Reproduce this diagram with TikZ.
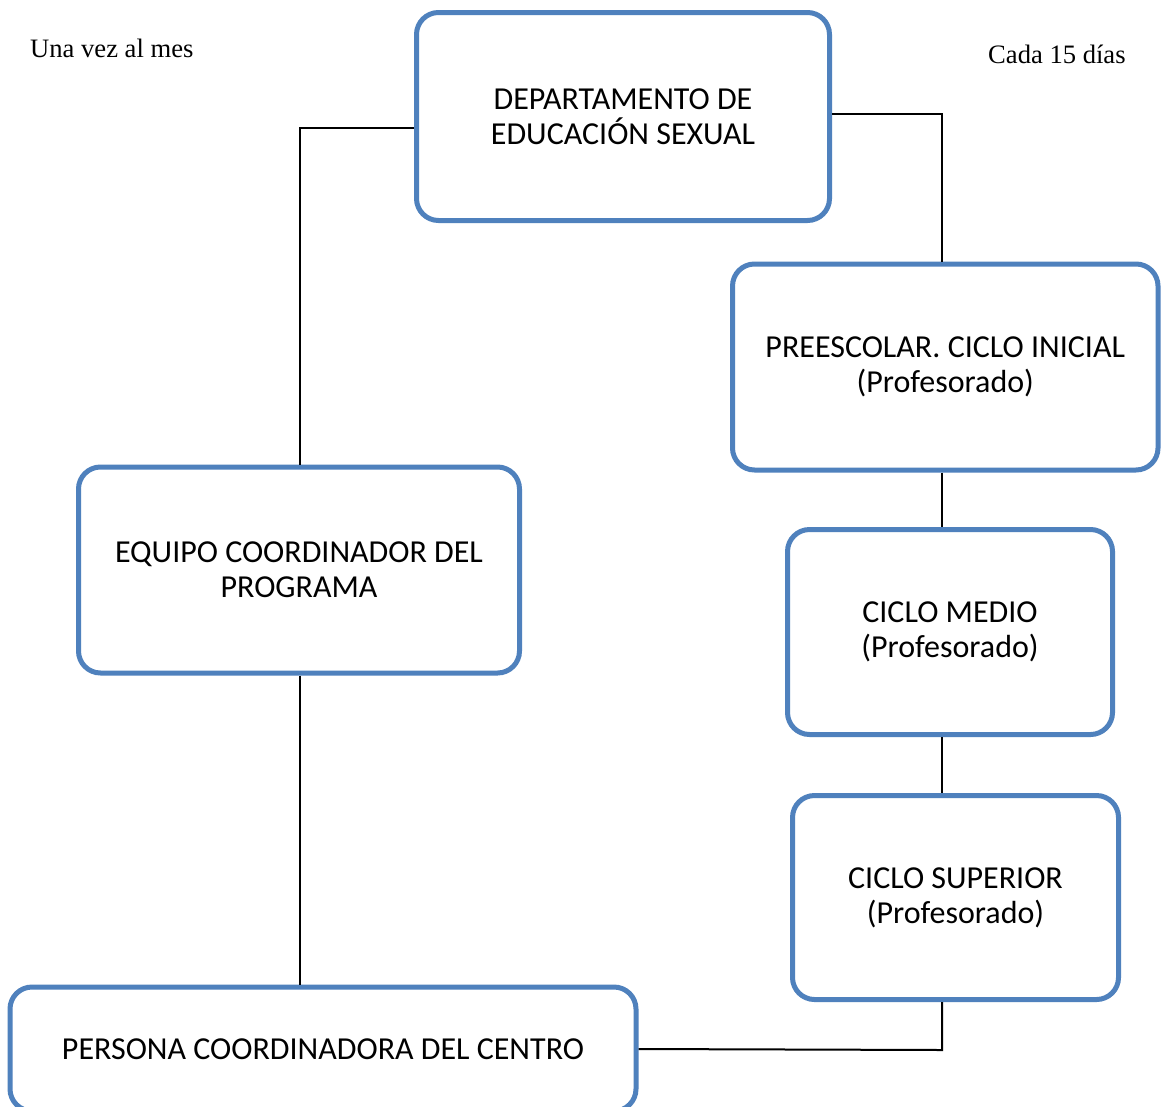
\documentclass[tikz,border=0pt]{standalone}
\usepackage{fontspec}
\setmainfont{Carlito}
\newfontfamily\tnr{Liberation Serif}
\definecolor{boxblue}{HTML}{4F81BD}
\begin{document}
\begin{tikzpicture}[x=1pt,y=-1pt,
  orgbox/.style={draw=boxblue, line width=5pt, rounded corners=22pt, fill=white,
    rectangle, inner sep=0pt, align=center, font=\fontsize{32}{35}\selectfont},
  link/.style={draw=black, line width=2pt},
  note/.style={inner sep=0pt, anchor=base west, font=\tnr\fontsize{26.6}{30}\selectfont}]
\useasboundingbox (0,0) rectangle (1161,1106);
\fill[white] (0,0) rectangle (1161,1106);
\node[orgbox, minimum width=413pt, minimum height=208pt] (D) at (623,116.5) {DEPARTAMENTO DE\\EDUCACIÓN SEXUAL};
\node[orgbox, minimum width=425.5pt, minimum height=206pt] (P) at (945.25,367) {PREESCOLAR. CICLO INICIAL\\(Profesorado)};
\node[orgbox, minimum width=441pt, minimum height=206pt] (E) at (299,570) {EQUIPO COORDINADOR DEL\\PROGRAMA};
\node[orgbox, minimum width=325pt, minimum height=205pt] (M) at (950,632) {CICLO MEDIO\\(Profesorado)};
\node[orgbox, minimum width=326pt, minimum height=204pt] (S) at (955.5,897.5) {CICLO SUPERIOR\\(Profesorado)};
\node[orgbox, minimum width=626pt, minimum height=124pt] (C) at (323,1049) {PERSONA COORDINADORA DEL CENTRO};
\node[note] (n1) at (30,57) {Una vez al mes};
\node[note] (n2) at (988,63) {Cada 15 días};
\coordinate (col) at (942,0);
\coordinate (lcol) at (300,0);
\coordinate (turn) at (942,1050);
\draw[link] ([yshift=-11.5pt]D.west) -| (lcol |- E.north);
\draw[link] ([yshift=2.5pt]D.east) -| (col |- P.north);
\draw[link] (col |- P.south) -- (col |- M.north);
\draw[link] (col |- M.south) -- (col |- S.north);
\draw[link] (lcol |- E.south) -- (lcol |- C.north);
\draw[link] (col |- S.south) -- (turn) -- (C.east);
\end{tikzpicture}
\end{document}
